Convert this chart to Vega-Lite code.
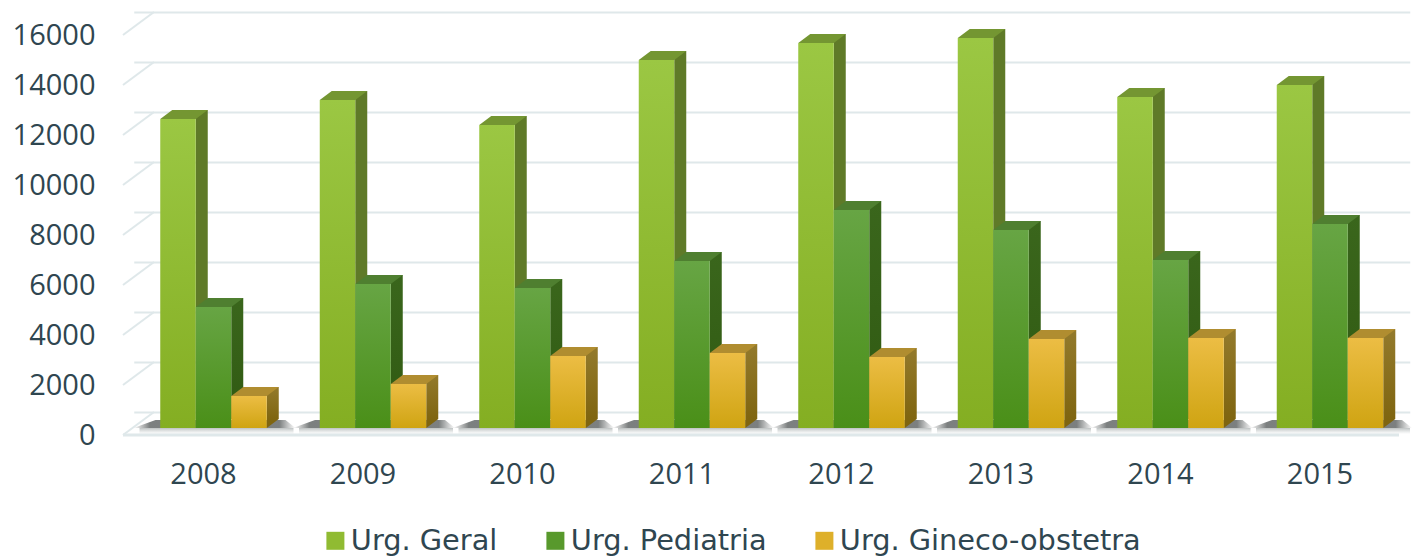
{
"$schema":"https://vega.github.io/schema/vega-lite/v6.json",
"width":1260,"height":400,
"autosize":{"type":"none"},
"padding":{"left":154,"top":12,"right":0,"bottom":144},
"background":"white",
"config":{"view":{"stroke":null}},
"datasets":{
"d":[
{"ano":"2008","serie":"Urg. Geral","valor":12360},{"ano":"2008","serie":"Urg. Pediatria","valor":4840},{"ano":"2008","serie":"Urg. Gineco-obstetra","valor":1280},
{"ano":"2009","serie":"Urg. Geral","valor":13120},{"ano":"2009","serie":"Urg. Pediatria","valor":5760},{"ano":"2009","serie":"Urg. Gineco-obstetra","valor":1760},
{"ano":"2010","serie":"Urg. Geral","valor":12120},{"ano":"2010","serie":"Urg. Pediatria","valor":5600},{"ano":"2010","serie":"Urg. Gineco-obstetra","valor":2880},
{"ano":"2011","serie":"Urg. Geral","valor":14720},{"ano":"2011","serie":"Urg. Pediatria","valor":6680},{"ano":"2011","serie":"Urg. Gineco-obstetra","valor":3000},
{"ano":"2012","serie":"Urg. Geral","valor":15400},{"ano":"2012","serie":"Urg. Pediatria","valor":8720},{"ano":"2012","serie":"Urg. Gineco-obstetra","valor":2840},
{"ano":"2013","serie":"Urg. Geral","valor":15600},{"ano":"2013","serie":"Urg. Pediatria","valor":7920},{"ano":"2013","serie":"Urg. Gineco-obstetra","valor":3560},
{"ano":"2014","serie":"Urg. Geral","valor":13240},{"ano":"2014","serie":"Urg. Pediatria","valor":6720},{"ano":"2014","serie":"Urg. Gineco-obstetra","valor":3600},
{"ano":"2015","serie":"Urg. Geral","valor":13720},{"ano":"2015","serie":"Urg. Pediatria","valor":8160},{"ano":"2015","serie":"Urg. Gineco-obstetra","valor":3600}
],
"t":[{"v":0},{"v":2000},{"v":4000},{"v":6000},{"v":8000},{"v":10000},{"v":12000},{"v":14000},{"v":16000}]
},
"data":{"name":"d"},
"encoding":{
"x":{"field":"ano","type":"nominal","title":null,"scale":{"range":[-20.25,1255.75],"paddingInner":0.329,"paddingOuter":0.1645},
"axis":{"domain":false,"ticks":false,"grid":false,"labelAngle":0,"labelFont":"Open Sans","labelFontSize":29,"labelColor":"#2f4650","labelPadding":62,"labelOffset":-10,"labelBaseline":"middle"}},
"y":{"field":"valor","type":"quantitative","title":null,"scale":{"domain":[0,16000],"nice":false},
"axis":{"values":[0,2000,4000,6000,8000,10000,12000,14000,16000],"format":"d","domain":false,"ticks":false,"grid":true,"gridColor":"#dfe8ea","gridWidth":2,"labelFont":"Open Sans","labelFontSize":29,"labelColor":"#2f4650","labelPadding":59,"labelOffset":23,"labelBaseline":"middle","labelOverlap":false}}
},
"layer":[
{"data":{"name":"t"},"mark":{"type":"point","filled":false,"size":4,"opacity":1,"stroke":"#dfe8ea","strokeWidth":2,"shape":"M0,0L-31,23"},"encoding":{"x":{"value":0},"y":{"field":"v","type":"quantitative"}}},
{"data":{"values":[{"v":0}]},"mark":{"type":"point","filled":false,"size":4,"opacity":1,"stroke":"#dfe8ea","strokeWidth":3,"shape":"M-31,23L1245,23"},"encoding":{"x":{"value":0},"y":{"field":"v","type":"quantitative"}}},
{"transform":[{"filter":"datum.serie==='Urg. Geral'"}],"mark":{"type":"point","filled":true,"size":4,"opacity":1,"shape":"M-74,16H80V22H-74Z","fill":{"gradient":"linear","x1":0,"y1":0,"x2":0,"y2":1,"stops":[{"offset":0,"color":"rgba(110,120,120,0.45)"},{"offset":1,"color":"rgba(150,160,160,0)"}]}},"encoding":{"y":{"datum":0}}},
{"transform":[{"filter":"datum.serie==='Urg. Geral'"}],"mark":{"type":"point","filled":true,"size":4,"opacity":1,"shape":"M-80,16L-58,8H72L82,16Z","fill":{"gradient":"linear","x1":0,"y1":0,"x2":1,"y2":0,"stops":[{"offset":0,"color":"rgba(90,95,95,0)"},{"offset":0.1,"color":"rgba(80,85,85,0.75)"},{"offset":0.9,"color":"rgba(80,85,85,0.75)"},{"offset":1,"color":"rgba(90,95,95,0)"}]}},"encoding":{"y":{"datum":0}}},

{"transform":[{"filter":"datum.serie==='Urg. Geral'"}],"mark":{"type":"bar","width":12,"xOffset":-11.75,"yOffset":7,"y2Offset":7,"color":"#5f7a28"},"encoding":{"y2":{"datum":0}}},
{"transform":[{"filter":"datum.serie==='Urg. Geral'"}],"mark":{"type":"point","filled":true,"size":4,"opacity":1,"color":"#749632","shape":"M-53.25,16L-17.75,16L-5.75,7L-41.25,7Z"}},
{"transform":[{"filter":"datum.serie==='Urg. Geral'"}],"mark":{"type":"bar","width":35.5,"xOffset":-35.5,"yOffset":16,"y2Offset":16,"color":{"gradient":"linear","x1":0,"y1":0,"x2":0,"y2":1,"stops":[{"offset":0,"color":"#9bc743"},{"offset":1,"color":"#84ae22"}]}},"encoding":{"y2":{"datum":0}}},

{"transform":[{"filter":"datum.serie==='Urg. Pediatria'"}],"mark":{"type":"bar","width":12,"xOffset":23.75,"yOffset":7,"y2Offset":7,"color":{"gradient":"linear","x1":0,"y1":0,"x2":0,"y2":1,"stops":[{"offset":0,"color":"#3a661c"},{"offset":1,"color":"#305a12"}]}},"encoding":{"y2":{"datum":0}}},
{"transform":[{"filter":"datum.serie==='Urg. Pediatria'"}],"mark":{"type":"point","filled":true,"size":4,"opacity":1,"color":"#4f7f30","shape":"M-17.75,16L17.75,16L29.75,7L-5.75,7Z"}},
{"transform":[{"filter":"datum.serie==='Urg. Pediatria'"}],"mark":{"type":"bar","width":35.5,"xOffset":0,"yOffset":16,"y2Offset":16,"color":{"gradient":"linear","x1":0,"y1":0,"x2":0,"y2":1,"stops":[{"offset":0,"color":"#67a544"},{"offset":1,"color":"#4a8f18"}]}},"encoding":{"y2":{"datum":0}}},

{"transform":[{"filter":"datum.serie==='Urg. Gineco-obstetra'"}],"mark":{"type":"point","filled":true,"size":4,"opacity":1,"color":"#7f6510","shape":"M53.25,16L65.25,7L53.25,7Z"},"encoding":{"y":{"datum":0}}},
{"transform":[{"filter":"datum.serie==='Urg. Gineco-obstetra'"}],"mark":{"type":"bar","width":12,"xOffset":59.25,"yOffset":7,"y2Offset":7,"color":{"gradient":"linear","x1":0,"y1":0,"x2":0,"y2":1,"stops":[{"offset":0,"color":"#937a2c"},{"offset":1,"color":"#7f6510"}]}},"encoding":{"y2":{"datum":0}}},
{"transform":[{"filter":"datum.serie==='Urg. Gineco-obstetra'"}],"mark":{"type":"point","filled":true,"size":4,"opacity":1,"color":"#b08d30","shape":"M17.75,16L53.25,16L65.25,7L29.75,7Z"}},
{"transform":[{"filter":"datum.serie==='Urg. Gineco-obstetra'"}],"mark":{"type":"bar","width":35.5,"xOffset":35.5,"yOffset":16,"y2Offset":16,"color":{"gradient":"linear","x1":0,"y1":0,"x2":0,"y2":1,"stops":[{"offset":0,"color":"#ecbd44"},{"offset":1,"color":"#cfa412"}]}},"encoding":{"y2":{"datum":0}}},

{"mark":{"type":"point","filled":true,"size":0,"opacity":1},"encoding":{"color":{"field":"serie","type":"nominal","title":null,
"scale":{"domain":["Urg. Geral","Urg. Pediatria","Urg. Gineco-obstetra"],"range":["#90bb32","#58992c","#deb02a"]},
"legend":{"orient":"none","legendX":167,"legendY":514,"direction":"horizontal","columns":3,"symbolType":"square","symbolSize":324,"symbolStrokeWidth":0,"symbolOpacity":1,"labelFont":"DejaVu Sans","labelFontSize":28.8,"labelColor":"#2f4650","labelOffset":1,"columnPadding":43,"labelLimit":500,
"encoding":{"symbols":{"update":{"fill":{"signal":"{gradient:'linear',x1:0,y1:0,x2:0,y2:1,stops:datum.value==='Urg. Geral'?[{offset:0,color:'#9bc743'},{offset:1,color:'#84ae22'}]:datum.value==='Urg. Pediatria'?[{offset:0,color:'#67a544'},{offset:1,color:'#4a8f18'}]:[{offset:0,color:'#ecbd44'},{offset:1,color:'#cfa412'}]}"}}}}}}}}
]
}
